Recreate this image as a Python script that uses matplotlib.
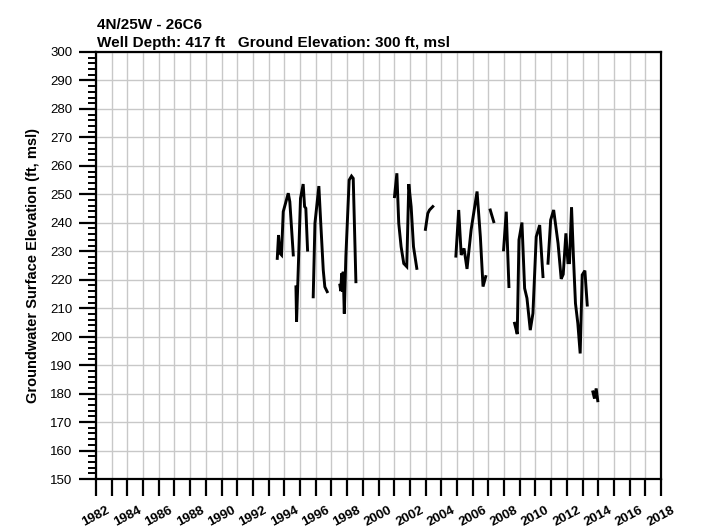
import numpy as np
import matplotlib
matplotlib.use("Agg")
import matplotlib.pyplot as plt
from matplotlib.ticker import MultipleLocator

plt.rcParams['font.family'] = ['Liberation Sans', 'DejaVu Sans']

nan = np.nan
# decimal years (NaN = gap in record)
years = [
    1993.55, 1993.63, 1993.72, 1993.82, 1993.93, 1994.25, 1994.35, 1994.57, nan,
    1994.74, 1994.78, 1995.03, 1995.20, 1995.29, 1995.37, 1995.48, nan,
    1995.84, 1995.95, 1996.20, 1996.31, 1996.48, 1996.58, 1996.73, nan,
    1997.54, 1997.60, 1997.65, 1997.71, 1997.75, 1997.82, 1997.92, 1998.13, 1998.28, 1998.39, 1998.56, nan,
    2001.02, 2001.17, 2001.29, 2001.44, 2001.61, 2001.80, 2001.93, 2002.08, 2002.23, 2002.44, nan,
    2002.99, 2003.14, 2003.25, 2003.46, nan,
    2004.93, 2005.11, 2005.27, 2005.45, 2005.64, 2005.90, 2006.28, 2006.49, 2006.66, 2006.83, nan,
    2007.12, 2007.34, nan,
    2007.97, 2008.14, 2008.31, nan,
    2008.67, 2008.84, 2008.95, 2009.14, 2009.31, 2009.46, 2009.67, 2009.84, 2010.05, 2010.27, 2010.48, nan,
    2010.80, 2010.97, 2011.16, 2011.44, 2011.64, 2011.77, 2011.94, 2012.07, 2012.17, 2012.30, 2012.42,
    2012.55, 2012.70, 2012.85, 2012.98, 2013.15, 2013.30, nan,
    2013.66, 2013.76, 2013.87, 2013.97,
]
elevations = [
    227.5, 235.7, 229.3, 228.7, 243.9, 250.4, 247.4, 228.7, nan,
    217.5, 205.2, 248.6, 253.6, 245.7, 245.1, 230.4, nan,
    214.0, 239.8, 252.9, 241.0, 223.4, 217.5, 215.8, nan,
    218.1, 216.0, 222.2, 215.8, 222.8, 208.1, 228.1, 255.0, 256.4, 255.6, 219.3, nan,
    249.2, 257.4, 239.8, 231.6, 225.7, 224.6, 253.6, 245.7, 231.6, 224.0, nan,
    237.7, 243.3, 244.5, 245.7, nan,
    228.3, 244.5, 228.7, 231.0, 223.8, 237.5, 251.0, 235.1, 217.6, 221.1, nan,
    244.5, 240.4, nan,
    230.5, 243.9, 217.6, nan,
    204.7, 200.9, 234.0, 240.1, 217.0, 213.5, 202.3, 208.2, 235.1, 239.2, 221.1, nan,
    225.8, 241.0, 244.5, 232.8, 220.3, 221.9, 236.3, 226.0, 226.0, 245.5, 228.1,
    211.7, 204.7, 194.1, 221.7, 223.2, 211.1, nan,
    180.6, 178.3, 181.8, 177.5,
]

title_line1 = "4N/25W - 26C6"
title_line2 = "Well Depth: 417 ft   Ground Elevation: 300 ft, msl"
ylabel = "Groundwater Surface Elevation (ft, msl)"
x_min, x_max = 1982, 2018
y_min, y_max = 150, 300
xtick_labels = [str(y) for y in range(1982, 2019, 2)]

fig = plt.figure(figsize=(7.10, 5.29), dpi=100)
ax = fig.add_axes([96/710, 1-479/529, (661-96)/710, (479-52)/529])

ax.plot(years, elevations, color='black', lw=2.1, solid_joinstyle='miter')

ax.set_xlim(x_min, x_max)
ax.set_ylim(y_min, y_max)

ax.yaxis.set_major_locator(MultipleLocator(10))
ax.yaxis.set_minor_locator(MultipleLocator(2))

ax.grid(True, which='major', color='#c8c8c8', lw=1.0)
ax.set_axisbelow(True)

xt = list(range(x_min, x_max + 1))
ax.set_xticks(xt)
ax.set_xticklabels([str(y) if str(y) in xtick_labels else '' for y in xt],
                   rotation=28, ha='center', fontsize=9.5, fontweight='bold')

ax.tick_params(axis='x', which='major', direction='out', length=12, width=1.6, pad=6)
ax.tick_params(axis='y', which='major', direction='out', length=12, width=1.6, pad=5, labelsize=9.5)
ax.tick_params(axis='y', which='minor', direction='out', length=6, width=1.4)
for sp in ax.spines.values():
    sp.set_linewidth(1.6)
    sp.set_color('black')

ax.set_ylabel(ylabel, fontsize=10.5, fontweight='bold', labelpad=7)

fig.text(97/710, 1-29/529, title_line1, fontsize=11, fontweight='bold', ha='left', va='baseline')
fig.text(97/710, 1-46.5/529, title_line2, fontsize=11, fontweight='bold', ha='left', va='baseline')

fig.savefig("out.png", dpi=100)
